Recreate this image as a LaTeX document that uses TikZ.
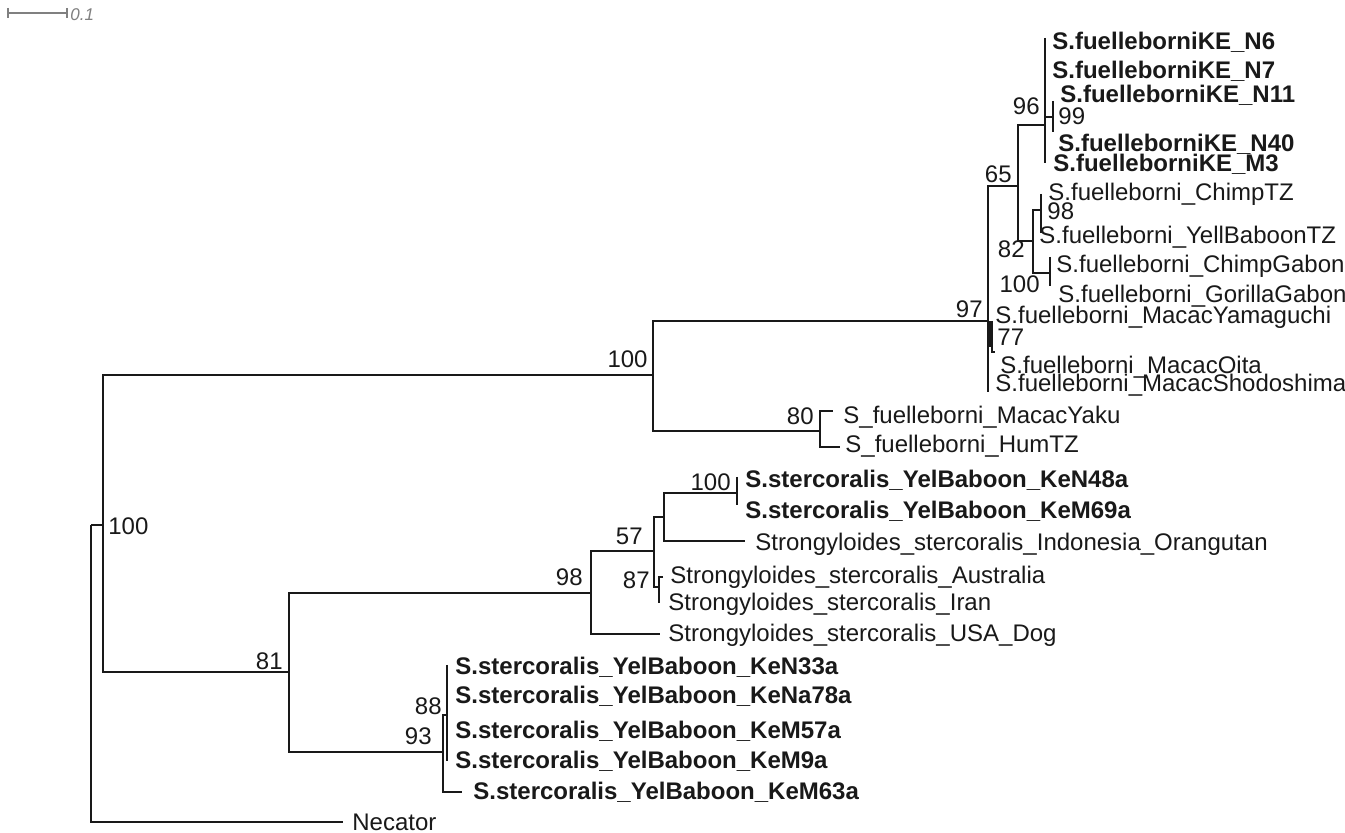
\documentclass[tikz,border=0pt]{standalone}
\usepackage{fontspec}
\setmainfont{Liberation Sans}
\begin{document}
\begin{tikzpicture}[x=0.5pt,y=-0.5pt,
  br/.style={line width=0.8pt,draw=black!90},
  scl/.style={line width=0.7pt,draw=black!50},
  lf/.style={anchor=west,inner sep=0pt,text height=8pt,text depth=0pt,font=\fontsize{12}{14}\selectfont,text=black!90},
  blf/.style={lf,font=\fontsize{12}{14}\selectfont\bfseries},
  bsr/.style={anchor=east,inner sep=0pt,text height=8pt,text depth=0pt,font=\fontsize{12}{14}\selectfont,text=black!90},
  bsl/.style={bsr,anchor=west},
  scllab/.style={anchor=west,inner sep=0pt,text height=5.5pt,text depth=0pt,font=\fontsize{8.5}{10}\selectfont\itshape,text=black!50}]
\fill[white] (0,0) rectangle (1345,833);
\useasboundingbox (0,0) rectangle (1345,833);

% scale bar
\coordinate (sbL) at (8,13);
\coordinate (sbR) at (67,13);
\draw[scl] (sbL) -- (sbR);
\draw[scl] (8,8) -- (8,18);
\draw[scl] (67,8) -- (67,18);
\node[scllab] (sbt) at (70,15) {0.1};

% root
\coordinate (root) at (91,525);
\coordinate (inner) at (103,525);
\coordinate (necE) at (343,822);
\draw[br] (root) -- (inner);
\draw[br] (root) |- (necE);
\node[lf] (nec) at (352,823) {Necator};
\node[bsl] (b100r) at (108,527) {100};

\coordinate (nA) at (653,375);
\coordinate (nB) at (289,672);
\draw[br] (inner) |- (nA);
\draw[br] (inner) |- (nB);
\node[bsr] (b100a) at (648,360) {100};
\node[bsr] (b81) at (283,662) {81};

% fuelleborni clade
\coordinate (n97) at (988,321);
\coordinate (n80) at (820,431);
\draw[br] (nA) |- (n97);
\draw[br] (nA) |- (n80);
\node[bsr] (b97) at (983,310) {97};
\node[bsr] (b80) at (814,417) {80};

\coordinate (yakuE) at (833,411);
\coordinate (humE) at (840,447);
\draw[br] (n80) |- (yakuE);
\draw[br] (n80) |- (humE);
\node[lf] (yaku) at (843,416) {S\_fuelleborni\_MacacYaku};
\node[lf] (hum) at (845,445) {S\_fuelleborni\_HumTZ};

\coordinate (n65) at (1018,186);
\coordinate (shoE) at (988,392);
\draw[br] (n97) |- (n65);
\draw[br] (n97) -- (shoE);
\node[bsr] (b65) at (1012,175) {65};

\coordinate (n77) at (992,321);
\coordinate (oitaE) at (995,352);
\fill[black!90] (987.4,321) rectangle (992.8,347);
\draw[br] (n77) |- (oitaE);
\node[bsl] (b77) at (997,338) {77};
\node[lf] (yam) at (995,316) {S.fuelleborni\_MacacYamaguchi};
\node[lf] (oita) at (1000,366) {S.fuelleborni\_MacacOita};
\node[lf] (sho) at (995,384) {S.fuelleborni\_MacacShodoshima};

\coordinate (n96) at (1045,125);
\coordinate (n82) at (1033,241);
\draw[br] (n65) |- (n96);
\draw[br] (n65) |- (n82);
\node[bsr] (b96) at (1040,107) {96};
\node[bsr] (b82) at (1025,250) {82};

\coordinate (n6E) at (1045,38);
\coordinate (m3E) at (1045,163);
\draw[br] (n6E) -- (m3E);
\coordinate (n99) at (1053,117);
\draw[br] (n96 |- n99) -- (n99);
\coordinate (n11E) at (1053,101);
\coordinate (n40E) at (1053,132);
\draw[br] (n11E) -- (n40E);
\node[bsl] (b99) at (1058,117) {99};
\node[blf] (kn6) at (1052,42) {S.fuelleborniKE\_N6};
\node[blf] (kn7) at (1052,71) {S.fuelleborniKE\_N7};
\node[blf] (kn11) at (1060,95) {S.fuelleborniKE\_N11};
\node[blf] (kn40) at (1058,144) {S.fuelleborniKE\_N40};
\node[blf] (km3) at (1053,164) {S.fuelleborniKE\_M3};

\coordinate (n98t) at (1041,210);
\coordinate (nGab) at (1050,273);
\draw[br] (n82) |- (n98t);
\draw[br] (n82) |- (nGab);
\coordinate (chtzE) at (1041,194);
\coordinate (ybtzE) at (1041,233);
\draw[br] (chtzE) -- (ybtzE);
\coordinate (chgE) at (1050,257);
\coordinate (gorE) at (1050,286);
\draw[br] (chgE) -- (gorE);
\node[bsl] (b98t) at (1047,212) {98};
\node[bsr] (b100g) at (1040,285) {100};
\node[lf] (chtz) at (1048,193) {S.fuelleborni\_ChimpTZ};
\node[lf] (ybtz) at (1039,236) {S.fuelleborni\_YellBaboonTZ};
\node[lf] (chg) at (1056,265) {S.fuelleborni\_ChimpGabon};
\node[lf] (gor) at (1058,295) {S.fuelleborni\_GorillaGabon};

% stercoralis clade
\coordinate (n98s) at (591,593);
\coordinate (n93) at (443,752);
\draw[br] (nB) |- (n98s);
\draw[br] (nB) |- (n93);
\node[bsr] (b98s) at (583,578) {98};
\node[bsr] (b93) at (432,737) {93};

\coordinate (n57) at (654,551);
\coordinate (dogE) at (660,634);
\draw[br] (n98s) |- (n57);
\draw[br] (n98s) |- (dogE);
\node[bsr] (b57) at (643,537) {57};
\node[lf] (dog) at (668,634) {Strongyloides\_stercoralis\_USA\_Dog};

\coordinate (nOr) at (664,517);
\coordinate (n87) at (659,587);
\draw[br] (n57) |- (nOr);
\draw[br] (n57) |- (n87);
\coordinate (ausE) at (659,577);
\coordinate (ausT) at (663,577);
\coordinate (iraE) at (659,603);
\draw[br] (ausT) -- (ausE) -- (iraE);
\node[bsr] (b87) at (650,581) {87};
\node[lf] (aus) at (670,576) {Strongyloides\_stercoralis\_Australia};
\node[lf] (ira) at (668,603) {Strongyloides\_stercoralis\_Iran};

\coordinate (n100s) at (737,493);
\coordinate (orE) at (745,541);
\draw[br] (nOr) |- (n100s);
\draw[br] (nOr) |- (orE);
\node[lf] (ora) at (755,543) {Strongyloides\_stercoralis\_Indonesia\_Orangutan};
\coordinate (n48E) at (737,477);
\coordinate (m69E) at (737,505);
\draw[br] (n48E) -- (m69E);
\node[bsr] (b100s) at (731,483) {100};
\node[blf] (kn48) at (745,480) {S.stercoralis\_YelBaboon\_KeN48a};
\node[blf] (km69) at (745,511) {S.stercoralis\_YelBaboon\_KeM69a};

\coordinate (n88) at (447,715);
\coordinate (m63E) at (462,792);
\draw[br] (n93) |- (n88);
\draw[br] (n93) |- (m63E);
\coordinate (n33E) at (447,665);
\coordinate (m9E) at (447,761);
\draw[br] (n33E) -- (m9E);
\node[bsr] (b88) at (442,707) {88};
\node[blf] (kn33) at (455,667) {S.stercoralis\_YelBaboon\_KeN33a};
\node[blf] (kna78) at (455,696) {S.stercoralis\_YelBaboon\_KeNa78a};
\node[blf] (km57) at (455,731) {S.stercoralis\_YelBaboon\_KeM57a};
\node[blf] (km9) at (455,761) {S.stercoralis\_YelBaboon\_KeM9a};
\node[blf] (km63) at (473,792) {S.stercoralis\_YelBaboon\_KeM63a};
\end{tikzpicture}
\end{document}
